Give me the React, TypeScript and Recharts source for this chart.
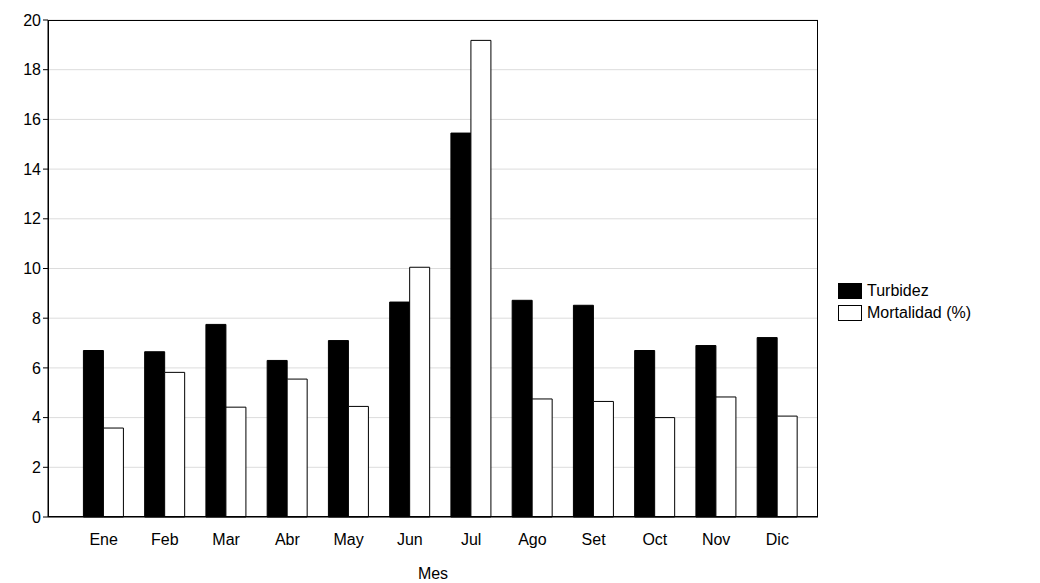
import React from "react";
import { ComposedChart, Bar, XAxis, YAxis, CartesianGrid } from "recharts";

const months = ["Ene","Feb","Mar","Abr","May","Jun","Jul","Ago","Set","Oct","Nov","Dic"];
const turbidez = [6.7,6.65,7.75,6.3,7.1,8.65,15.45,8.72,8.52,6.7,6.9,7.22];
const mortalidad = [3.58,5.82,4.42,5.55,4.45,10.05,19.18,4.75,4.65,4.0,4.83,4.06];
const yTicks = [0,2,4,6,8,10,12,14,16,18,20];

const data = months.map((m, i) => ({ mes: m, Turbidez: turbidez[i], Mortalidad: mortalidad[i] }));
const font = "'Liberation Sans', Arial, sans-serif";

export default function App() {
  return (
    <div style={{ position: "relative", width: 1030, height: 575, fontFamily: font }}>
      <ComposedChart width={1030} height={575} data={data} barCategoryGap="17%" barGap={0}
        margin={{ top: 12, right: 220, bottom: 0, left: 0 }}>
        <CartesianGrid horizontal vertical={false} stroke="#dcdcdc" />
        <XAxis dataKey="mes" tickLine={false} stroke="#000" height={66} padding={{ left: 25, right: 10 }}
          tick={{ fill: "#000", fontSize: 16, fontFamily: font }} tickMargin={11}
          label={{ value: "Mes", position: "insideBottom", offset: 4, fill: "#000", fontSize: 16, fontFamily: font }} />
        <YAxis domain={[0, 20]} ticks={yTicks} width={40} stroke="#000" tickSize={5}
          tick={{ fill: "#000", fontSize: 16, fontFamily: font }} />
        <Bar dataKey="Turbidez" fill="#000" stroke="#000" isAnimationActive={false} />
        <Bar dataKey="Mortalidad" fill="#fff" stroke="#000" isAnimationActive={false} />
      </ComposedChart>
      <div style={{ position: "absolute", left: 40, top: 12, width: 770, height: 497, border: "1px solid #000", boxSizing: "border-box", pointerEvents: "none" }} />
      <div style={{ position: "absolute", left: 830, top: 272, fontSize: 16, color: "#000", lineHeight: "22px" }}>
        <div style={{ display: "flex", alignItems: "center" }}>
          <span style={{ width: 24, height: 16, background: "#000", border: "1px solid #000", marginRight: 5, boxSizing: "border-box" }} />Turbidez
        </div>
        <div style={{ display: "flex", alignItems: "center" }}>
          <span style={{ width: 24, height: 16, background: "#fff", border: "1px solid #000", marginRight: 5, boxSizing: "border-box" }} />Mortalidad (%)
        </div>
      </div>
    </div>
  );
}
